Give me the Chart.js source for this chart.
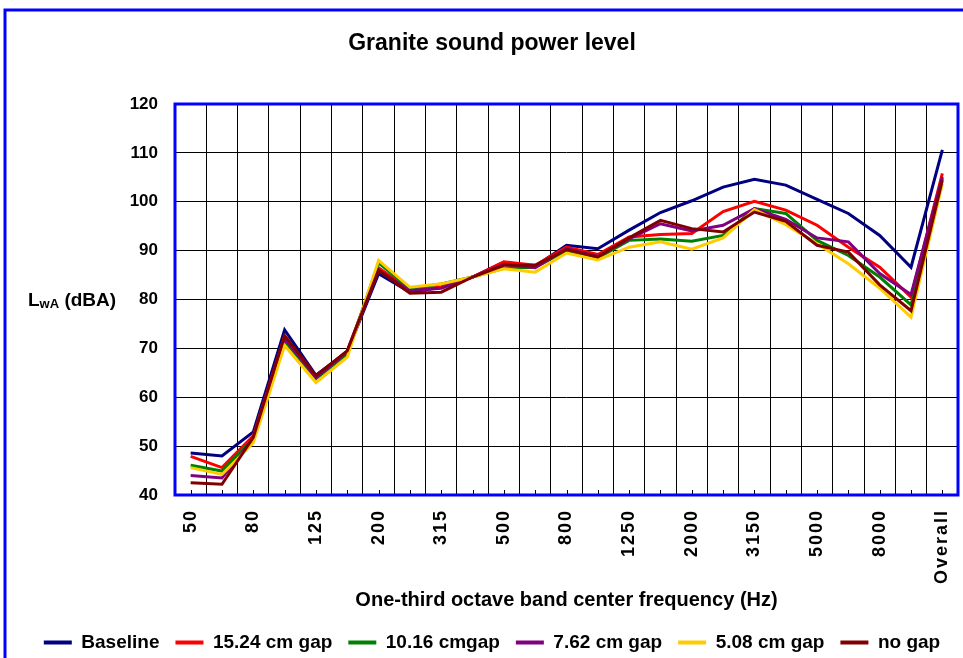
<!DOCTYPE html>
<html>
<head>
<meta charset="utf-8">
<title>Granite sound power level</title>
<script src="https://cdn.jsdelivr.net/npm/chart.js@4.4.1/dist/chart.umd.min.js"></script>
<style>
  html, body { margin: 0; padding: 0; background: #fff; overflow: hidden; }
  #graph-container { width: 963px; height: 658px; }
</style>
</head>
<body>
<div id="graph-container"><canvas id="myChart" width="963" height="658"></canvas></div>
<script>
// one-third octave bands (Hz) + overall level
const frequencies = ['50', '63', '80', '100', '125', '160', '200', '250', '315', '400', '500', '630',
  '800', '1000', '1250', '1600', '2000', '2500', '3150', '4000', '5000', '6300', '8000', '10000', 'Overall'];
// only every other band gets a label on the axis
const shownTicks = ['50', '80', '125', '200', '315', '500', '800', '1250', '2000', '3150', '5000', '8000', 'Overall'];

const baseline = [48.6, 48.0, 52.9, 73.8, 64.5, 69.3, 85.3, 81.5, 82.5, 84.6, 87.6, 86.8, 91.1,
  90.4, 94.2, 97.8, 100.2, 103.0, 104.6, 103.4, 100.5, 97.6, 93.1, 86.6, 110.6];
const gap1524 = [47.9, 45.6, 52.1, 72.5, 64.2, 69.5, 86.5, 82.0, 82.5, 84.6, 87.7, 87.0, 90.7,
  89.2, 92.8, 93.3, 93.5, 98.0, 100.1, 98.3, 95.2, 90.7, 86.6, 80.5, 105.8];
const gap1016 = [46.1, 44.9, 51.5, 71.5, 63.8, 68.8, 87.5, 82.2, 83.2, 84.6, 86.4, 86.6, 90.0,
  88.5, 92.1, 92.4, 91.9, 93.1, 98.6, 97.6, 92.1, 89.0, 84.6, 78.9, 104.8];
const gap762 = [44.0, 43.5, 51.5, 72.0, 64.0, 69.3, 86.0, 81.8, 82.3, 84.6, 87.2, 86.5, 90.4,
  88.8, 92.4, 95.5, 94.0, 95.2, 98.6, 96.4, 92.6, 91.8, 85.3, 81.0, 105.1];
const gap508 = [45.6, 44.2, 50.7, 70.6, 63.0, 68.2, 88.0, 82.5, 83.2, 84.6, 86.3, 85.6, 89.5,
  88.1, 90.7, 91.8, 90.3, 92.6, 98.4, 95.3, 91.4, 87.3, 82.3, 76.4, 103.7];
const noGap = [42.5, 42.2, 51.8, 72.6, 64.4, 69.5, 86.0, 81.3, 81.5, 84.6, 87.0, 87.0, 90.2,
  88.7, 92.6, 96.2, 94.5, 93.8, 97.9, 96.0, 91.1, 89.7, 83.0, 77.7, 104.4];

const seriesNames = ['Baseline', '15.24 cm gap', '10.16 cmgap', '7.62 cm gap', '5.08 cm gap', 'no gap'];
const seriesColors = ['#000080', '#ff0000', '#008000', '#800080', '#ffcc00', '#800000'];
const seriesValues = [baseline, gap1524, gap1016, gap762, gap508, noGap];

Chart.defaults.font.family = '"Liberation Sans", Arial, sans-serif';
Chart.defaults.color = '#000';

// blue frames, small category ticks, y title with subscript
const chartDecor = {
  id: 'chartDecor',
  beforeDraw(chart) {
    const ctx = chart.ctx;
    ctx.save();
    ctx.fillStyle = '#fff';
    ctx.fillRect(0, 0, chart.width, chart.height);
    ctx.strokeStyle = '#0000ff';
    ctx.lineWidth = 3;
    ctx.beginPath();
    ctx.moveTo(5, chart.height + 10);
    ctx.lineTo(5, 10);
    ctx.lineTo(chart.width + 10, 10);
    ctx.stroke();
    ctx.restore();

    const xs = chart.scales.x;
    if (!xs._spaced) {
      const orig = xs.drawLabels;
      xs.drawLabels = function (area) {
        this.ctx.save();
        this.ctx.letterSpacing = '2px';
        orig.call(this, area);
        this.ctx.restore();
      };
      xs._spaced = true;
    }
  },
  beforeDatasetsDraw(chart) {
    const { ctx, chartArea: a, scales } = chart;
    ctx.save();
    ctx.strokeStyle = '#000';
    ctx.lineWidth = 1;
    ctx.beginPath();
    for (let i = 0; i < frequencies.length; i++) {
      const x = Math.round(scales.x.getPixelForValue(i)) + 0.5;
      ctx.moveTo(x, a.bottom);
      ctx.lineTo(x, a.bottom - 5);
    }
    ctx.stroke();
    ctx.strokeStyle = '#0000ff';
    ctx.lineWidth = 3;
    ctx.strokeRect(a.left, a.top, a.right - a.left, a.bottom - a.top);
    ctx.restore();
  },
  afterDraw(chart) {
    const ctx = chart.ctx;
    const y = (chart.chartArea.top + chart.chartArea.bottom) / 2 + 1;
    let x = 28;
    ctx.save();
    ctx.fillStyle = '#000';
    ctx.textBaseline = 'middle';
    ctx.font = 'bold 19px "Liberation Sans", Arial, sans-serif';
    ctx.fillText('L', x, y);
    x += ctx.measureText('L').width;
    ctx.font = 'bold 13px "Liberation Sans", Arial, sans-serif';
    ctx.fillText('wA', x, y + 4);
    x += ctx.measureText('wA').width;
    ctx.font = 'bold 19px "Liberation Sans", Arial, sans-serif';
    ctx.fillText(' (dBA)', x, y);
    ctx.restore();
  }
};

function buildDatasets() {
  return seriesNames.map((name, i) => ({
    label: name,
    data: seriesValues[i],
    borderColor: seriesColors[i],
    backgroundColor: seriesColors[i],
    borderWidth: 3,
    pointRadius: 0,
    tension: 0,
    fill: false,
    order: seriesNames.length - i   // later series drawn on top, like the original
  }));
}

function createChart() {
  const ctx = document.getElementById('myChart');
  return new Chart(ctx, {
    type: 'line',
    data: { labels: frequencies, datasets: buildDatasets() },
    options: {
      responsive: false,
      animation: false,
      layout: { padding: { left: 26, right: 5, top: 0, bottom: -4 } },
      plugins: {
        tooltip: { enabled: false },
        title: {
          display: true,
          text: 'Granite sound power level',
          font: { size: 23, weight: 'bold' },
          padding: { top: 30, bottom: 46.4 }
        },
        legend: {
          position: 'bottom',
          labels: {
            boxWidth: 28,
            boxHeight: 4,
            padding: 16,
            font: { size: 19, weight: 'bold' },
            sort: (a, b) => a.datasetIndex - b.datasetIndex,
            generateLabels(chart) {
              const items = Chart.defaults.plugins.legend.labels.generateLabels(chart);
              items.forEach(it => { it.lineWidth = 0; it.fillStyle = it.strokeStyle; });
              return items;
            }
          }
        }
      },
      scales: {
        x: {
          offset: true,
          grid: { color: '#000', lineWidth: 1, drawTicks: false, offset: true },
          border: { display: false },
          ticks: {
            autoSkip: false,
            minRotation: 90,
            maxRotation: 90,
            padding: 14,
            font: { size: 18, weight: 'bold' },
            callback(value) {
              const lab = this.getLabelForValue(value);
              return shownTicks.includes(lab) ? lab : '';
            }
          },
          title: {
            display: true,
            text: 'One-third octave band center frequency (Hz)',
            font: { size: 20, weight: 'bold' },
            padding: { top: 0, bottom: 5 }
          },
          afterFit(scale) {
            scale.height = 122;
            scale.paddingLeft = 0;
            scale.paddingRight = 0;
          }
        },
        y: {
          min: 40,
          max: 120,
          grid: { color: '#000', lineWidth: 1, drawTicks: false },
          border: { display: false },
          ticks: { stepSize: 10, padding: 17, font: { size: 17, weight: 'bold' } },
          afterFit(scale) {
            scale.width = 149;
            scale.paddingTop = 0;
            scale.paddingBottom = 0;
          }
        }
      }
    },
    plugins: [chartDecor]
  });
}

createChart();
</script>
</body>
</html>
